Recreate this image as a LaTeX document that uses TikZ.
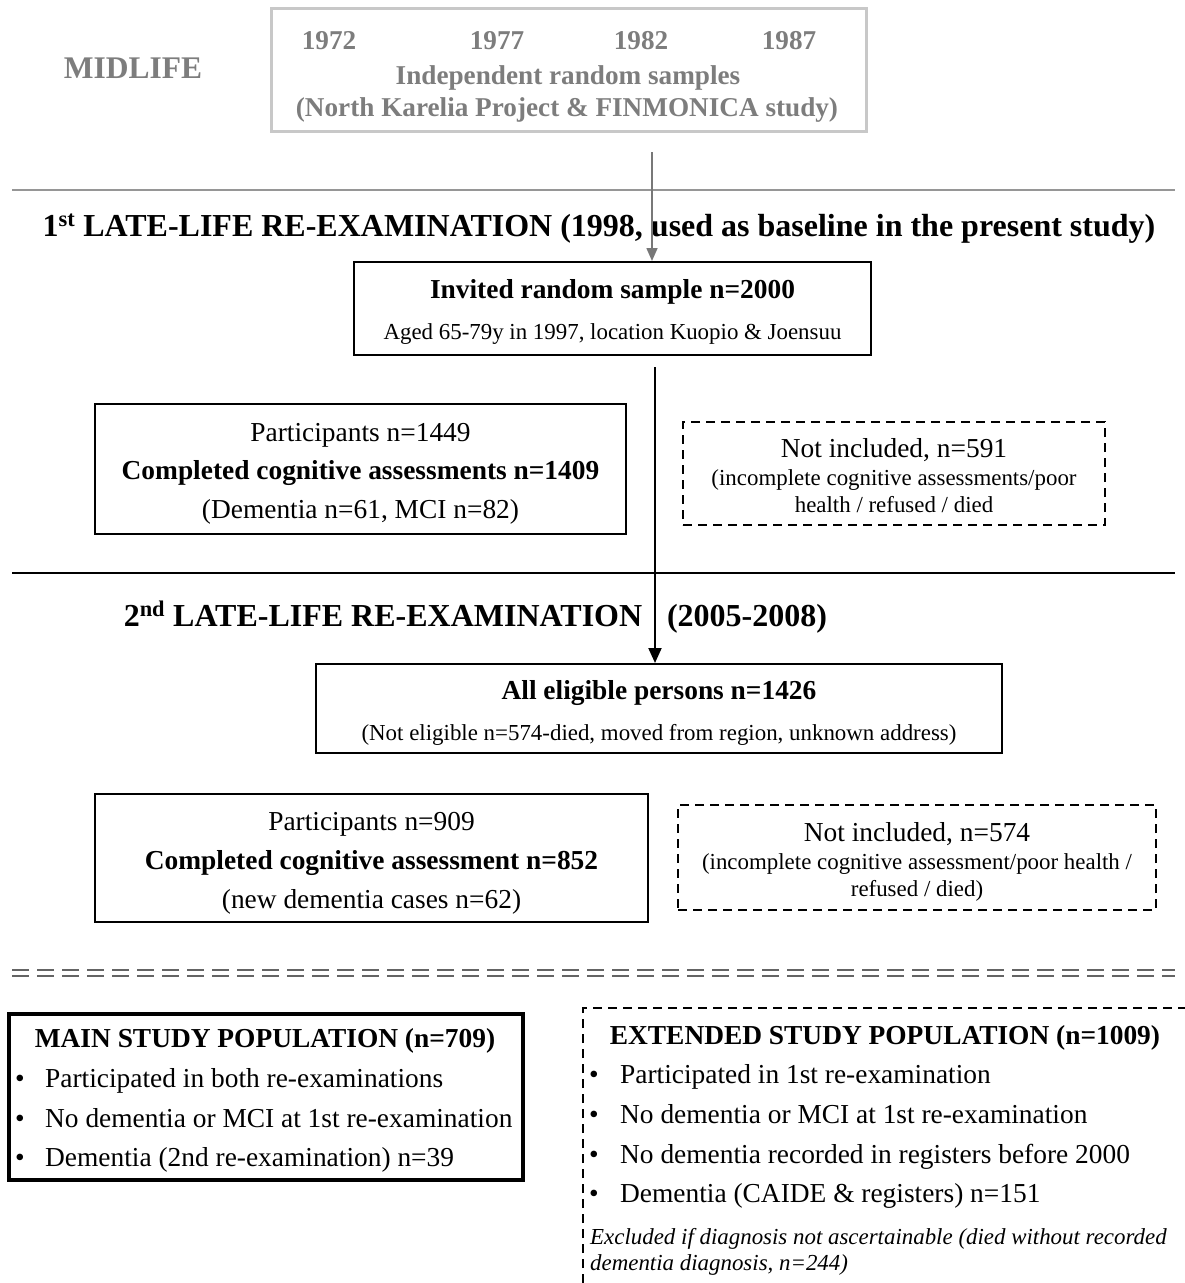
\documentclass[tikz,border=0pt]{standalone}
\usepackage{fontspec}
\setmainfont{Liberation Serif}
\usetikzlibrary{arrows.meta}
\definecolor{boxgray}{RGB}{200,200,200}
\definecolor{txtgray}{RGB}{125,125,125}
\definecolor{linegray}{RGB}{150,150,150}
\definecolor{arrgray}{RGB}{120,120,120}
\definecolor{dashgray}{RGB}{100,100,100}
\begin{document}
\begin{tikzpicture}[x=1pt,y=-1pt,
  box/.style={draw,line width=2pt,inner sep=0pt},
  dbox/.style={draw,line width=1.6pt,dash pattern=on 9pt off 6pt,inner sep=0pt},
  txt/.style={inner sep=0pt,anchor=base},
  lt/.style={inner sep=0pt,anchor=base west},
  big/.style={font=\bfseries\fontsize{32}{32}\selectfont},
  body/.style={font=\fontsize{27.4}{27.4}\selectfont},
  bodyb/.style={font=\bfseries\fontsize{27.4}{27.4}\selectfont},
  small/.style={font=\fontsize{22.9}{22.9}\selectfont},
  graytxt/.style={text=txtgray,font=\bfseries\fontsize{27.2}{27.2}\selectfont},
]
\useasboundingbox (0,0) rectangle (1185,1283);

% ---------- MIDLIFE ----------
\node[txt,text=txtgray,font=\bfseries\fontsize{31.5}{31.5}\selectfont] (mid) at (133,78) {MIDLIFE};
\node[draw=boxgray,line width=3pt,minimum width=595pt,minimum height=123pt,inner sep=0pt] (top) at (568.5,69.5) {};
\node[txt,graytxt] (y1) at (329,49) {1972};
\node[txt,graytxt] (y2) at (497,49) {1977};
\node[txt,graytxt] (y3) at (641,49) {1982};
\node[txt,graytxt] (y4) at (789,49) {1987};
\node[txt,graytxt] (ind) at (568,84) {Independent random samples};
\node[txt,graytxt] (nk) at (567,116) {(North Karelia Project \& FINMONICA study)};

% separator 1
\coordinate (s1l) at (12,190);
\coordinate (s1r) at (1175,190);
\draw[linegray,line width=2pt] (s1l) -- (s1r);

% title 1
\node[txt,big] (t1) at (599,236) {1\textsuperscript{st} LATE-LIFE RE-EXAMINATION (1998, used as baseline in the present study)};

% invited box
\node[box,minimum width=517pt,minimum height=93pt] (inv) at (612.5,308.5) {};
\node[txt,font=\bfseries\fontsize{27.4}{27.4}\selectfont] (inv1) at (612.5,298) {Invited random sample n=2000};
\node[txt,small] (inv2) at (612.5,339.5) {Aged 65-79y in 1997, location Kuopio \& Joensuu};

% gray arrow
\coordinate (a1) at (652,152);
\draw[arrgray,line width=1.6pt,-{Triangle[width=11pt,length=13pt]}] (a1) -- (a1 |- inv.north);

% participants 1
\node[box,minimum width=531pt,minimum height=130pt] (p1) at (360.5,469) {};
\node[txt,body] (p1a) at (360.5,441) {Participants n=1449};
\node[txt,bodyb] (p1b) at (360.5,479) {Completed cognitive assessments n=1409};
\node[txt,body] (p1c) at (360.5,518) {(Dementia n=61, MCI n=82)};

% not included 1
\node[dbox,minimum width=422pt,minimum height=103pt] (n1) at (894,473.5) {};
\node[txt,body] (n1a) at (894,457) {Not included, n=591};
\node[txt,small] (n1b) at (894,485.5) {(incomplete cognitive assessments/poor};
\node[txt,small] (n1c) at (894,512.5) {health / refused / died};

% separator 2
\coordinate (s2l) at (12,573);
\coordinate (s2r) at (1175,573);
\draw[black,line width=2pt] (s2l) -- (s2r);

% title 2
\node[txt,big] (t2a) at (383,626) {2\textsuperscript{nd} LATE-LIFE RE-EXAMINATION};
\node[txt,big] (t2b) at (747,626) {(2005-2008)};

% eligible box
\node[box,minimum width=686pt,minimum height=89pt] (el) at (659,708.5) {};
\node[txt,bodyb] (el1) at (659,699) {All eligible persons n=1426};
\node[txt,small] (el2) at (659,740.5) {(Not eligible n=574-died, moved from region, unknown address)};

% black arrow
\coordinate (a2) at (655,367);
\draw[black,line width=2pt,-{Triangle[width=13pt,length=15pt]}] (a2) -- (a2 |- el.north);

% participants 2
\node[box,minimum width=553pt,minimum height=128pt] (p2) at (371.5,858) {};
\node[txt,body] (p2a) at (371.5,830) {Participants n=909};
\node[txt,bodyb] (p2b) at (371.5,869) {Completed cognitive assessment n=852};
\node[txt,body] (p2c) at (371.5,908) {(new dementia cases n=62)};

% not included 2
\node[dbox,minimum width=478pt,minimum height=105pt] (n2) at (917,857.5) {};
\node[txt,body] (n2a) at (917,841) {Not included, n=574};
\node[txt,small] (n2b) at (917,869.5) {(incomplete cognitive assessment/poor health /};
\node[txt,small] (n2c) at (917,896.5) {refused / died)};

% double dashed separator
\coordinate (d1l) at (12,970);
\coordinate (d1r) at (1175,970);
\coordinate (d2l) at (12,976);
\coordinate (d2r) at (1175,976);
\draw[dashgray,line width=1.6pt,dash pattern=on 17pt off 8pt] (d1l) -- (d1r);
\draw[dashgray,line width=1.6pt,dash pattern=on 17pt off 8pt] (d2l) -- (d2r);

% main study population
\node[draw,line width=4pt,minimum width=514pt,minimum height=166pt,inner sep=0pt] (main) at (266,1097) {};
\node[txt,bodyb] (m0) at (265,1047) {MAIN STUDY POPULATION (n=709)};
\foreach \yy/\tt [count=\i] in {1087/Participated in both re-examinations,1127/No dementia or MCI at 1st re-examination,1166/Dementia (2nd re-examination) n=39}{
  \node[txt,body] (mb\i) at (20,\yy) {•};
  \node[lt,body] (m\i) at (45,\yy) {\tt};
}

% extended study population
\coordinate (eb) at (583,1283);
\coordinate (etl) at (583,1008);
\coordinate (etr) at (1185,1008);
\draw[line width=1.6pt,dash pattern=on 9pt off 6pt] (eb) -- (etl) -- (etr);
\node[txt,bodyb] (e0) at (885,1044) {EXTENDED STUDY POPULATION (n=1009)};
\foreach \yy/\tt [count=\i] in {1083/Participated in 1st re-examination,1123/No dementia or MCI at 1st re-examination,1163/No dementia recorded in registers before 2000,1202/Dementia (CAIDE \& registers) n=151}{
  \node[txt,body] (eb\i) at (594,\yy) {•};
  \node[lt,body] (e\i) at (620,\yy) {\tt};
}
\node[lt,font=\itshape\fontsize{22.9}{22.9}\selectfont] (ex1) at (590,1244.5) {Excluded if diagnosis not ascertainable (died without recorded};
\node[lt,font=\itshape\fontsize{22.9}{22.9}\selectfont] (ex2) at (590,1270.5) {dementia diagnosis, n=244)};
\end{tikzpicture}
\end{document}
